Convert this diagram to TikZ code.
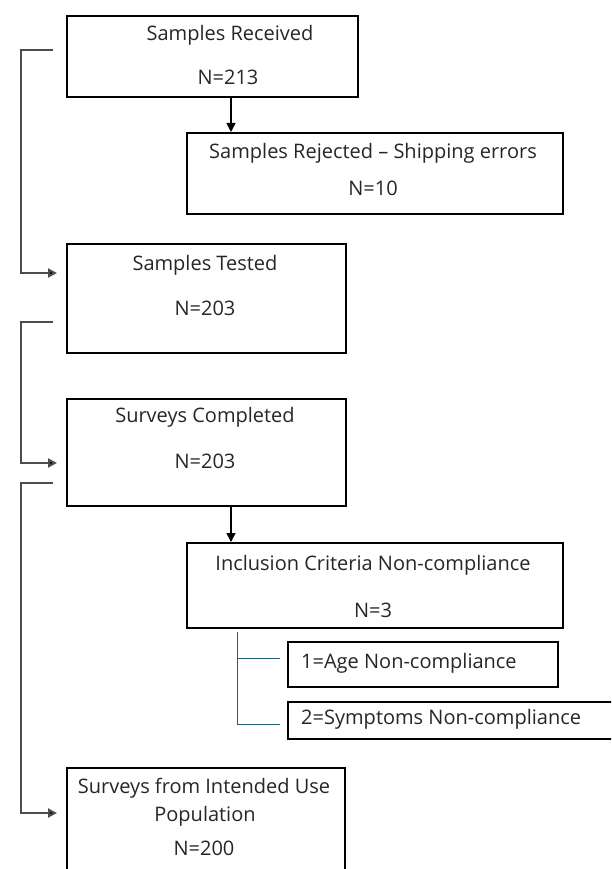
\documentclass[tikz,border=0pt]{standalone}
\usepackage{fontspec}
\setmainfont{Open Sans}
\usetikzlibrary{arrows.meta,calc}
\definecolor{txt}{HTML}{262626}
\definecolor{brk}{HTML}{4D4D4D}
\definecolor{teal}{HTML}{1F5F7A}
\begin{document}
\begin{tikzpicture}[x=1pt,y=-1pt,
  box/.style={draw=black,line width=1.6pt,inner sep=0pt,anchor=north west},
  lbl/.style={text=txt,font=\fontsize{20}{23}\selectfont,inner sep=0pt},
  lbll/.style={lbl,anchor=west},
  arr/.style={line width=1.5pt,draw=black,-{Triangle[length=9pt,width=9pt]}},
  bracket/.style={line width=2pt,draw=brk,-{Triangle[length=9pt,width=9pt,fill=black]}},
  subline/.style={line width=1pt,draw=teal}]
\useasboundingbox (0,0) rectangle (611,869);
\clip (0,0) rectangle (611,869);
\fill[white] (0,0) rectangle (611,869);
% boxes
\node[box,minimum width=291pt,minimum height=81pt] (b1) at (66,15) {};
\node[box,minimum width=376pt,minimum height=81pt] (b2) at (186,132) {};
\node[box,minimum width=279pt,minimum height=109pt] (b3) at (66,243) {};
\node[box,minimum width=279pt,minimum height=107pt] (b4) at (66,398) {};
\node[box,minimum width=376pt,minimum height=85pt] (b5) at (186,542) {};
\node[box,minimum width=270pt,minimum height=45pt] (b6) at (287,641) {};
\node[box,minimum width=360pt,minimum height=37pt] (b7) at (287,701) {};
\node[box,minimum width=278pt,minimum height=120pt] (b8) at (66,767) {};
% texts
\node[lbl] (t1a) at (230,35) {Samples Received};
\node[lbl] (t1b) at (228,77) {N=213};
\node[lbl] (t2a) at (373,153) {Samples Rejected – Shipping errors};
\node[lbl] (t2b) at (373,188) {N=10};
\node[lbl] (t3a) at (205,265) {Samples Tested};
\node[lbl] (t3b) at (205,308) {N=203};
\node[lbl] (t4a) at (205,417) {Surveys Completed};
\node[lbl] (t4b) at (205,461) {N=203};
\node[lbl] (t5a) at (373,565) {Inclusion Criteria Non-compliance};
\node[lbl] (t5b) at (373,610) {N=3};
\node[lbll] (t6) at (301,663) {1=Age Non-compliance};
\node[lbll] (t7) at (301,719) {2=Symptoms Non-compliance};
\node[lbl] (t8a) at (204,788) {Surveys from Intended Use};
\node[lbl] (t8b) at (205,816) {Population};
\node[lbl] (t8c) at (204,848) {N=200};
% vertical arrows
\draw[arr] ([xshift=165pt]b1.south west) -- ([xshift=165pt]b1.south west |- b2.north);
\draw[arr] ([xshift=165pt]b4.south west) -- ([xshift=165pt]b4.south west |- b5.north);
% brackets
\coordinate (s1) at (53,50);  \coordinate (e1) at (57,273);
\coordinate (s2) at (53,322); \coordinate (e2) at (57,463);
\coordinate (s3) at (53,483); \coordinate (e3) at (57,813);
\draw[bracket] (s1) -- (21,50) |- (e1);
\draw[bracket] (s2) -- (21,322) |- (e2);
\draw[bracket] (s3) -- (21,483) |- (e3);
% sub lines
\coordinate (v1) at (237,632);
\coordinate (h1) at (280,658);
\coordinate (h2) at (280,724);
\draw[subline] (v1) |- (h2);
\draw[subline] (h1) -- (237,658);
\end{tikzpicture}
\end{document}
